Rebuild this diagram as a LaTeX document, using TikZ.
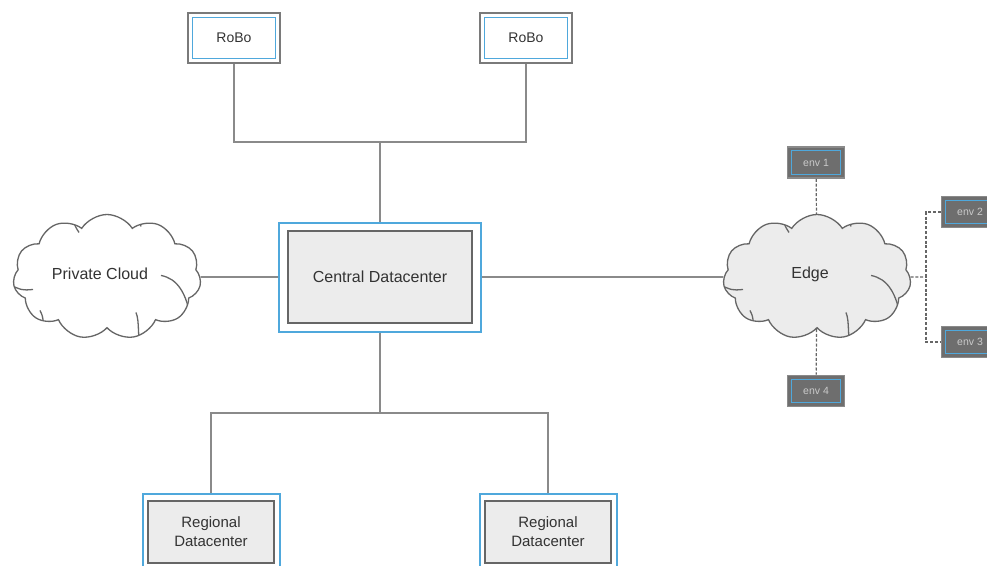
\documentclass[tikz,border=0pt]{standalone}
\usepackage{fontspec}
\setmainfont{Liberation Sans}
\usetikzlibrary{shapes.symbols}
\definecolor{blueb}{HTML}{4FA8DC}
\definecolor{grayb}{HTML}{7A7A7A}
\definecolor{grayd}{HTML}{666666}
\definecolor{lightf}{HTML}{ECECEC}
\definecolor{envf}{HTML}{6E6E6E}
\definecolor{envt}{HTML}{CACACA}
\definecolor{linec}{HTML}{8A8A8A}
\definecolor{txt}{HTML}{333333}
\begin{document}
\begin{tikzpicture}[x=1pt,y=-1pt,
  robobox/.style={draw=grayb, line width=2pt, fill=white, minimum width=92pt, minimum height=50pt,
    inner sep=0pt, text=txt, font=\fontsize{14}{16}\selectfont,
    path picture={\draw[blueb, line width=1.6pt] ([shift={(4.5pt,-4.5pt)}]path picture bounding box.north west) rectangle ([shift={(-4.5pt,4.5pt)}]path picture bounding box.south east);}},
  centralbox/.style={draw=blueb, line width=2pt, fill=white, minimum width=202pt, minimum height=109pt,
    inner sep=0pt, text=txt, font=\fontsize{16}{19}\selectfont,
    path picture={\draw[grayd, fill=lightf, line width=1.6pt] ([shift={(9pt,-8.5pt)}]path picture bounding box.north west) rectangle ([shift={(-9pt,8.5pt)}]path picture bounding box.south east);}},
  regbox/.style={draw=blueb, line width=2pt, fill=white, minimum width=137pt, minimum height=76pt,
    inner sep=0pt, text=txt, align=center, font=\fontsize{15}{19}\selectfont,
    path picture={\draw[grayd, fill=lightf, line width=1.6pt] ([shift={(5.5pt,-7pt)}]path picture bounding box.north west) rectangle ([shift={(-5.5pt,7pt)}]path picture bounding box.south east);}},
  envbox/.style={draw=linec, line width=1.6pt, fill=envf, minimum width=57pt, minimum height=31pt,
    inner sep=0pt, text=envt, font=\fontsize{10.5}{12}\selectfont,
    path picture={\draw[blueb, line width=1.3pt] ([shift={(3.8pt,-3.8pt)}]path picture bounding box.north west) rectangle ([shift={(-3.8pt,3.8pt)}]path picture bounding box.south east);}},
  cloudy/.style={cloud, cloud puffs=11, cloud puff arc=115, cloud ignores aspect, draw=grayd, line width=1.3pt,
    minimum width=188pt, minimum height=125pt, inner sep=0pt,
    path picture={
      \coordinate (cc) at (path picture bounding box.center);
      \draw[curl] ([shift={(-100pt,-7pt)}]cc) .. controls ([shift={(-85pt,-14pt)}]cc) .. ([shift={(-74pt,-13pt)}]cc);
      \draw[curl] ([shift={(54pt,1pt)}]cc) .. controls ([shift={(70pt,-2pt)}]cc) and ([shift={(80pt,-16pt)}]cc) .. ([shift={(84pt,-45pt)}]cc);
      \draw[curl] ([shift={(-67pt,-34pt)}]cc) .. controls ([shift={(-64pt,-40pt)}]cc) .. ([shift={(-62pt,-65pt)}]cc);
      \draw[curl] ([shift={(29pt,-36pt)}]cc) .. controls ([shift={(31pt,-42pt)}]cc) .. ([shift={(32pt,-65pt)}]cc);
      \draw[curl] ([shift={(-28pt,44pt)}]cc) .. controls ([shift={(-32pt,50pt)}]cc) .. ([shift={(-40pt,75pt)}]cc);
      \draw[curl] ([shift={(34pt,50pt)}]cc) .. controls ([shift={(32pt,56pt)}]cc) .. ([shift={(30pt,75pt)}]cc);
    }},
  curl/.style={draw=grayd, line width=1.3pt},
  conn/.style={draw=linec, line width=1.6pt},
  dconn/.style={draw=grayd, line width=1.2pt, dash pattern=on 3pt off 1.8pt},
  ctext/.style={text=txt, font=\fontsize{16}{19}\selectfont}
]
\fill[white] (0,0) rectangle (987,565);
\useasboundingbox (0,0) rectangle (987,565);

\node[robobox] (robo1) at (234,38) {RoBo};
\node[robobox] (robo2) at (526,38) {RoBo};
\node[centralbox] (central) at (380,277) {Central Datacenter};
\node[regbox] (reg1) at (211,532) {Regional\\Datacenter};
\node[regbox] (reg2) at (548,532) {Regional\\Datacenter};

\node[cloudy, fill=white, label={[ctext, xshift=-7pt, yshift=3pt]center:Private Cloud}] (pc) at (107,277) {};
\node[cloudy, fill=lightf, label={[ctext, xshift=-7pt, yshift=3pt]center:Edge}] (edge) at (817,277) {};

\node[envbox] (env1) at (816,162.5) {env 1};
\node[envbox] (env2) at (970,212) {env 2};
\node[envbox] (env3) at (970,342) {env 3};
\node[envbox] (env4) at (816,391) {env 4};

\coordinate (jt) at (380,142);
\coordinate (jb) at (380,413);
\coordinate (jr) at (926,277);

\draw[conn] (robo1) |- (jt) -| (robo2);
\draw[conn] (jt) -- (central);
\draw[conn] (central) -- (jb);
\draw[conn] (reg1) |- (jb) -| (reg2);
\draw[conn] (pc) -- (central);
\draw[conn] (central) -- (edge);

\draw[dconn] (env1) -- (edge);
\draw[dconn] (edge) -- (env4);
\draw[dconn] (edge) -- (jr);
\draw[dconn] (env2) -| (jr) |- (env3);
\end{tikzpicture}
\end{document}
